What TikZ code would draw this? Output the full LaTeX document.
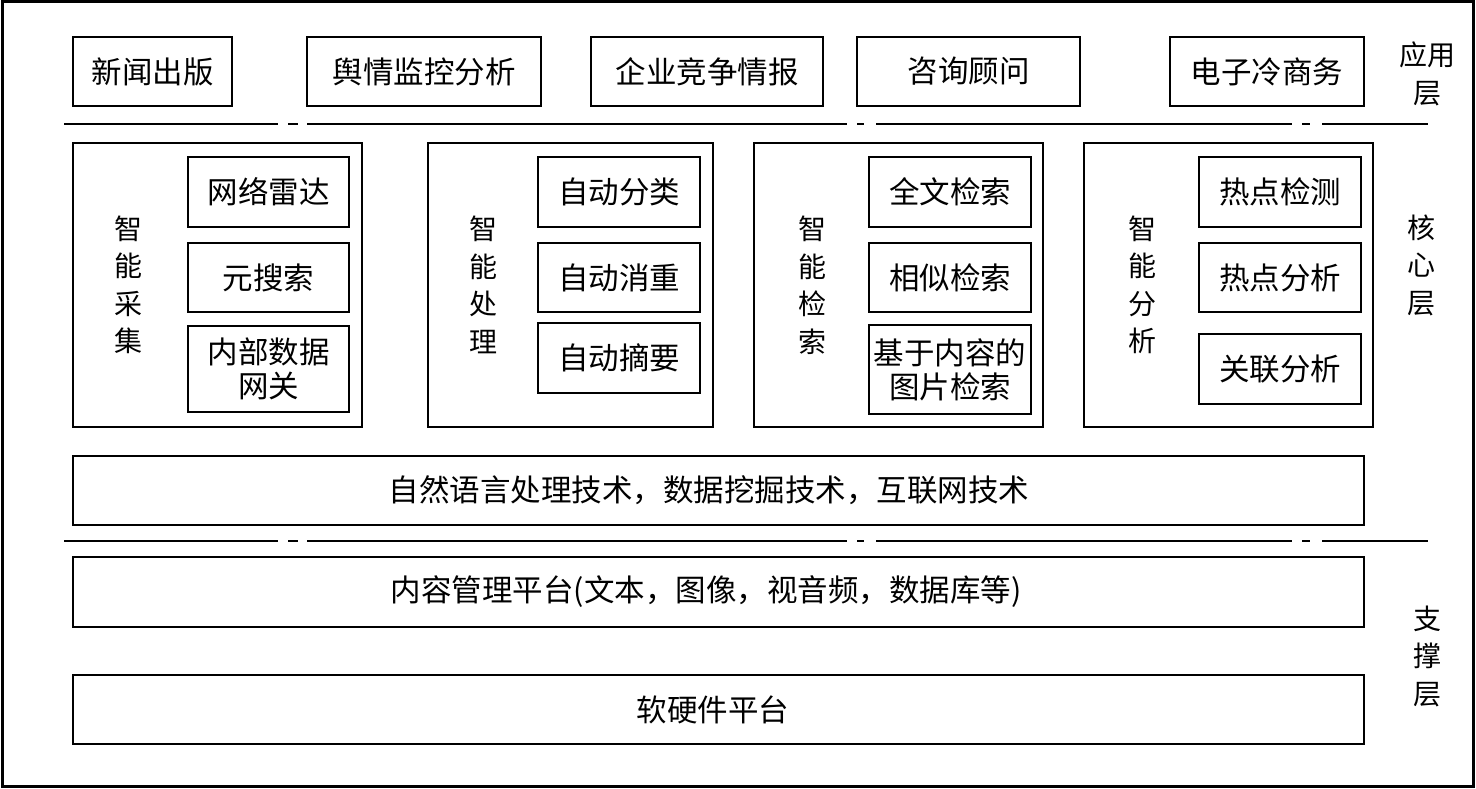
\documentclass[tikz,border=0pt]{standalone}
\usepackage{fontspec}
\setmainfont{Noto Sans CJK SC}
\begin{document}
\begin{tikzpicture}[x=1pt,y=-1pt,
  box/.style={draw,line width=2.6pt,inner sep=0pt,align=center,font=\fontsize{30.5}{34}\selectfont},
  panel/.style={draw,line width=2.6pt,inner sep=0pt,minimum width=289pt,minimum height=284pt},
  vlabel/.style={align=center,inner sep=0pt,font=\fontsize{28}{37.5}\selectfont},
  bartext/.style={inner sep=0pt,font=\fontsize{30.5}{34}\selectfont},
  sep/.style={line width=1.8pt}]
\useasboundingbox (0,0) rectangle (1476,789);
\draw[line width=3pt] (2,2) rectangle (1473,786);
% application layer
\node[box,minimum width=159pt,minimum height=69pt] (a1) at (152.5,71.5) {新闻出版};
\node[box,minimum width=234pt,minimum height=69pt] (a2) at (424,71.5) {舆情监控分析};
\node[box,minimum width=232pt,minimum height=69pt] (a3) at (707,71.5) {企业竞争情报};
\node[box,minimum width=223pt,minimum height=69pt] (a4) at (968.5,71.5) {咨询顾问};
\node[box,minimum width=194pt,minimum height=69pt] (a5) at (1267,71.5) {电子冷商务};
\node[vlabel] (la) at (1427,74) {应用\\层};
% separators
\foreach \yy in {124,541}{
  \draw[sep] (64,\yy) -- (278,\yy);
  \draw[sep] (288,\yy) -- (298,\yy);
  \draw[sep] (307,\yy) -- (847,\yy);
  \draw[sep] (857,\yy) -- (864,\yy);
  \draw[sep] (876,\yy) -- (1292,\yy);
  \draw[sep] (1302,\yy) -- (1310,\yy);
  \draw[sep] (1322,\yy) -- (1428,\yy);
}
% core layer panels
\node[panel,minimum width=289pt] (p1) at (217.5,285) {};
\node[panel,minimum width=285pt] (p2) at (570.5,285) {};
\node[panel,minimum width=289pt] (p3) at (898.5,285) {};
\node[panel,minimum width=289pt] (p4) at (1228.5,285) {};
\node[vlabel] (l1) at (128,285) {智\\能\\采\\集};
\node[vlabel] (l2) at (483,285) {智\\能\\处\\理};
\node[vlabel] (l3) at (812,285) {智\\能\\检\\索};
\node[vlabel] (l4) at (1142,285) {智\\能\\分\\析};
% panel 1
\node[box,minimum width=161pt,minimum height=70pt] (b11) at (268.5,192) {网络雷达};
\node[box,minimum width=161pt,minimum height=69pt] (b12) at (268.5,277.5) {元搜索};
\node[box,minimum width=161pt,minimum height=86pt] (b13) at (268.5,369) {内部数据\\网关};
% panel 2
\node[box,minimum width=162pt,minimum height=70pt] (b21) at (619,192) {自动分类};
\node[box,minimum width=162pt,minimum height=69pt] (b22) at (619,277.5) {自动消重};
\node[box,minimum width=162pt,minimum height=70pt] (b23) at (619,358) {自动摘要};
% panel 3
\node[box,minimum width=162pt,minimum height=70pt] (b31) at (950,192) {全文检索};
\node[box,minimum width=162pt,minimum height=69pt] (b32) at (950,277.5) {相似检索};
\node[box,minimum width=162pt,minimum height=89pt] (b33) at (950,369.5) {基于内容的\\图片检索};
% panel 4
\node[box,minimum width=162pt,minimum height=70pt] (b41) at (1280,192) {热点检测};
\node[box,minimum width=162pt,minimum height=69pt] (b42) at (1280,277.5) {热点分析};
\node[box,minimum width=162pt,minimum height=70pt] (b43) at (1280,369) {关联分析};
\node[vlabel] (lc) at (1421,265) {核\\心\\层};
% technology bar
\node[box,minimum width=1291pt,minimum height=69pt] (t1) at (718.5,490.5) {};
\node[bartext] (t1t) at (709,490.5) {自然语言处理技术，数据挖掘技术，互联网技术};
% support layer
\node[box,minimum width=1291pt,minimum height=70pt] (s1) at (718.5,592) {};
\node[bartext] (s1t) at (706,592) {内容管理平台(文本，图像，视音频，数据库等)};
\node[box,minimum width=1291pt,minimum height=69pt] (s2) at (718.5,709.5) {};
\node[bartext] (s2t) at (713,709.5) {软硬件平台};
\node[vlabel] (ls) at (1427,656) {支\\撑\\层};
\end{tikzpicture}
\end{document}
